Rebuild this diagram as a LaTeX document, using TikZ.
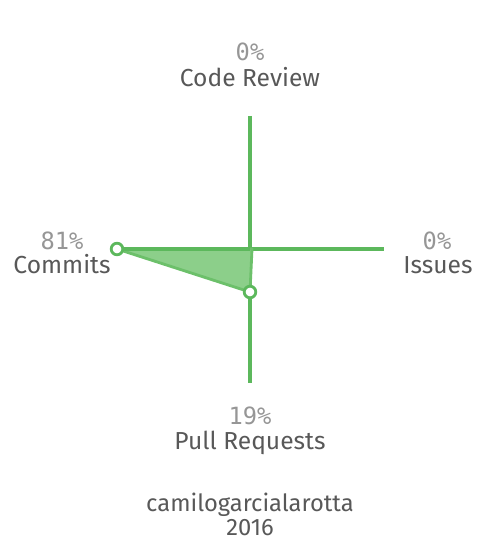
\documentclass[tikz,border=0pt]{standalone}
\usepackage{fontspec}
\setmainfont{Fira Sans}
\newfontfamily\pctfont{DejaVu Sans Mono}
\usetikzlibrary{calc}
\definecolor{axisgreen}{RGB}{92,184,92}
\definecolor{areagreen}{RGB}{140,207,138}
\definecolor{edgegreen}{RGB}{108,192,106}
\definecolor{labelgray}{RGB}{88,88,88}
\definecolor{pctgray}{RGB}{150,150,150}

\begin{document}
\begin{tikzpicture}[x=0.02cm,y=-0.02cm,
    axis/.style={draw=axisgreen,line width=2.2pt},
    value/.style={circle,draw=axisgreen,fill=white,line width=1.6pt,minimum size=6.6pt,inner sep=0pt},
    label/.style={anchor=base,text=labelgray,font=\fontsize{14}{16}\selectfont},
    title/.style={label,font=\fontsize{13.5}{16}\selectfont},
    pct/.style={anchor=base,text=pctgray,font=\pctfont\fontsize{13.5}{15}\selectfont}]
    \useasboundingbox (0,0) rectangle (500,560);

    % Axis ends and centre
    \coordinate (center) at (250,249);
    \coordinate (review) at (250,116);
    \coordinate (issues) at (384,249);
    \coordinate (pulls) at (250,383);
    \coordinate (commits) at (117,249);

    % Draw the axes
    \draw[axis] (review) -- (pulls);
    \draw[axis] (commits) -- (issues);

    % Draw the area
    \filldraw[fill=areagreen,draw=edgegreen,line width=1.6pt,line join=round]
        (117,249) -- (252,249) -- (252,249) -- (250,292) -- cycle;
    \draw[axis] (commits) -- (center);

    % Value points
    \node[value] (commitval) at (117,249) {};
    \node[value] (pullval) at (250,292) {};

    % Labels
    \node[pct] (reviewpct) at (250,61) {0\%};
    \node[label] (reviewlbl) at (250,87) {Code Review};
    \node[pct] (commitspct) at (62,249) {81\%};
    \node[label] (commitslbl) at (62,273) {Commits};
    \node[pct] (issuespct) at (437,249) {0\%};
    \node[label] (issueslbl) at (438,273) {Issues};
    \node[pct] (pullspct) at (250,424) {19\%};
    \node[label] (pullslbl) at (250,449) {Pull Requests};

    % Title
    \node[title] (user) at (250,511) {camilogarcialarotta};
    \node[title] (year) at (250,535) {2016};
\end{tikzpicture}
\end{document}
